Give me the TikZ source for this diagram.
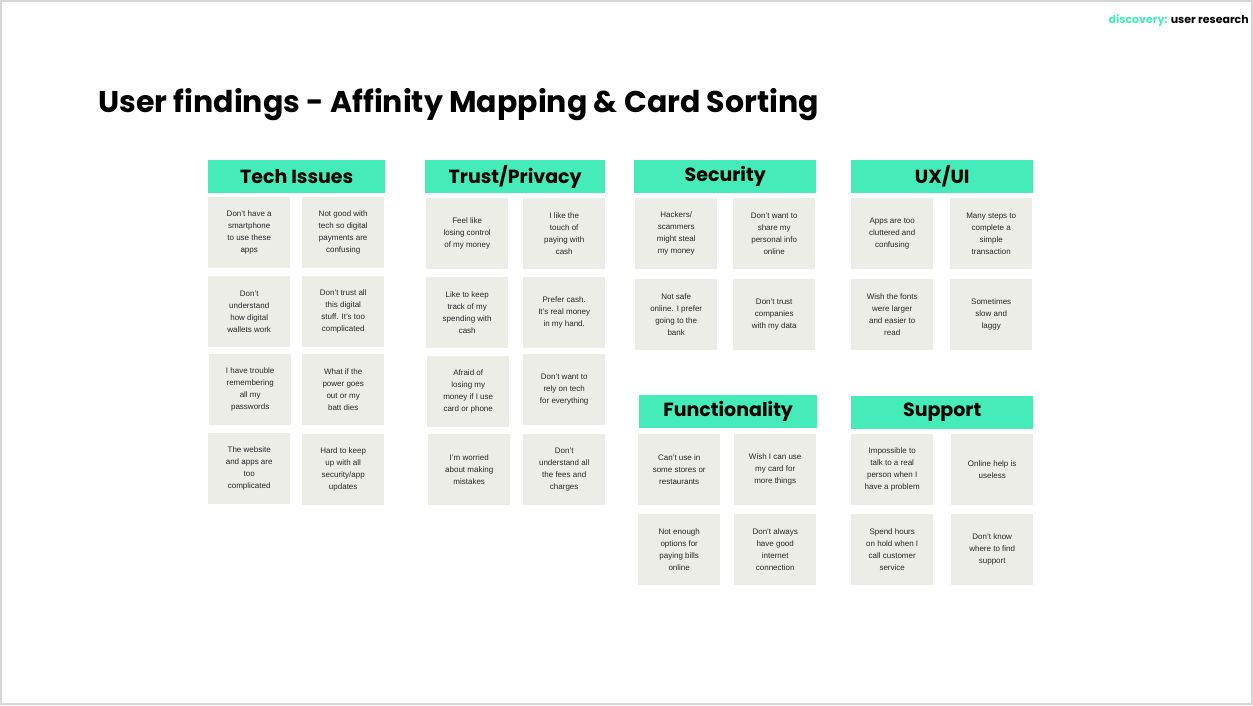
\documentclass[tikz,border=0pt]{standalone}
\usepackage{fontspec}
\setmainfont{Liberation Sans}
\newfontfamily\popp{Poppins}
\definecolor{mint}{HTML}{45EBB8}
\definecolor{cardbg}{HTML}{EDEDE8}
\definecolor{frame}{HTML}{D6D6D6}
\begin{document}
\begin{tikzpicture}[x=1pt,y=-1pt,
  card/.style={fill=cardbg,draw=none,minimum width=82pt,minimum height=71pt,inner sep=2pt,align=center,font=\fontsize{8}{12}\selectfont,anchor=north west,text=black!85},
  hdr/.style={fill=mint,draw=none,minimum height=33pt,anchor=north west,inner sep=0pt,font=\popp\bfseries\fontsize{19}{22}\selectfont}]
\useasboundingbox (0,0) rectangle (1253,705);
\draw[frame,line width=1.5pt] (1,1) rectangle (1252,704);
\node[anchor=north east,inner sep=0pt,font=\popp\bfseries\fontsize{11}{13}\selectfont] (tag) at (1249,14) {\textcolor{mint}{discovery:} user research};
\node[anchor=west,inner sep=0pt,font=\popp\bfseries\fontsize{30}{34}\selectfont] (title) at (98,105) {User findings - Affinity Mapping \& Card Sorting};
% Tech Issues
\node[hdr,minimum width=177pt] (hT) at (208,160) {Tech Issues};
\node[card] (t1) at (208,197) {Don't have a\\smartphone\\to use these\\apps};
\node[card] (t2) at (302,197) {Not good with\\tech so digital\\payments are\\confusing};
\node[card] (t3) at (208,276) {Don't\\understand\\how digital\\wallets work};
\node[card] (t4) at (302,276) {Don't trust all\\this digital\\stuff. It's too\\complicated};
\node[card] (t5) at (209,354) {I have trouble\\remembering\\all my\\passwords};
\node[card] (t6) at (302,354) {What if the\\power goes\\out or my\\batt dies};
\node[card] (t7) at (208,433) {The website\\and apps are\\too\\complicated};
\node[card] (t8) at (302,434) {Hard to keep\\up with all\\security/app\\updates};
% Trust
\node[hdr,minimum width=180pt] (hP) at (425,160) {Trust/Privacy};
\node[card] (p1) at (426,198) {Feel like\\losing control\\of my money};
\node[card] (p2) at (523,198) {I like the\\touch of\\paying with\\cash};
\node[card] (p3) at (426,277) {Like to keep\\track of my\\spending with\\cash};
\node[card] (p4) at (523,277) {Prefer cash.\\It's real money\\in my hand.};
\node[card] (p5) at (427,356) {Afraid of\\losing my\\money if I use\\card or phone};
\node[card] (p6) at (523,354) {Don't want to\\rely on tech\\for everything};
\node[card] (p7) at (428,434) {I'm worried\\about making\\mistakes};
\node[card] (p8) at (523,434) {Don't\\understand all\\the fees and\\charges};
% Security
\node[hdr,minimum width=182pt] (hS) at (634,160) {Security};
\node[card] (s1) at (635,198) {Hackers/\\scammers\\might steal\\my money};
\node[card] (s2) at (733,198) {Don't want to\\share my\\personal info\\online};
\node[card] (s3) at (635,279) {Not safe\\online. I prefer\\going to the\\bank};
\node[card] (s4) at (733,279) {Don't trust\\companies\\with my data};
% UX/UI
\node[hdr,minimum width=182pt] (hU) at (851,160) {UX/UI};
\node[card] (u1) at (851,198) {Apps are too\\cluttered and\\confusing};
\node[card] (u2) at (950,198) {Many steps to\\complete a\\simple\\transaction};
\node[card] (u3) at (851,279) {Wish the fonts\\were larger\\and easier to\\read};
\node[card] (u4) at (950,279) {Sometimes\\slow and\\laggy};
% Functionality
\node[hdr,minimum width=178pt] (hF) at (639,395) {Functionality};
\node[card] (f1) at (638,434) {Can't use in\\some stores or\\restaurants};
\node[card] (f2) at (734,434) {Wish I can use\\my card for\\more things};
\node[card] (f3) at (638,514) {Not enough\\options for\\paying bills\\online};
\node[card] (f4) at (734,514) {Don't always\\have good\\internet\\connection};
% Support
\node[hdr,minimum width=182pt] (hX) at (851,396) {Support};
\node[card] (x1) at (851,434) {Impossible to\\talk to a real\\person when I\\have a problem};
\node[card] (x2) at (951,434) {Online help is\\useless};
\node[card] (x3) at (851,514) {Spend hours\\on hold when I\\call customer\\service};
\node[card] (x4) at (951,514) {Don't know\\where to find\\support};
\end{tikzpicture}
\end{document}
